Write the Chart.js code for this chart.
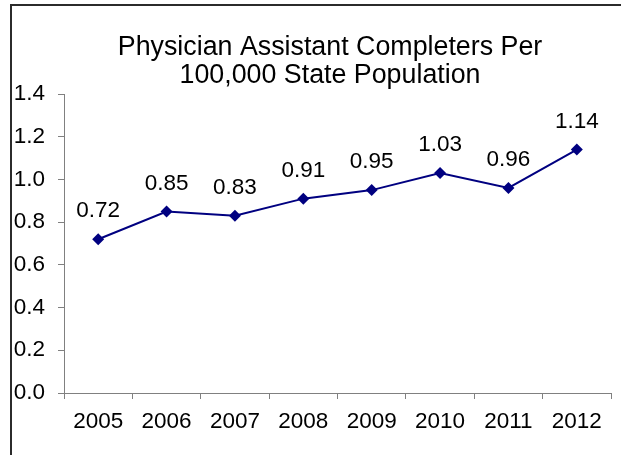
<!DOCTYPE html>
<html>
<head>
<meta charset="utf-8">
<title>Physician Assistant Completers</title>
<script src="https://cdn.jsdelivr.net/npm/chart.js@4"></script>
<style>
  html, body { margin:0; padding:0; background:#fff; }
  #wrap { width:621px; height:455px; }
</style>
</head>
<body>
<div id="wrap"><canvas id="chart" width="621" height="455"></canvas></div>
<script>
// ====== DATA ======
const years = ['2005','2006','2007','2008','2009','2010','2011','2012'];
const completers = [0.72, 0.85, 0.83, 0.91, 0.95, 1.03, 0.96, 1.14];
const titleLines = ['Physician Assistant Completers Per', '100,000 State Population'];

const FONT = '"Liberation Sans", Arial, sans-serif';
const NAVY = '#000080';
const AXIS = '#808080';

// ====== PLUGINS ======
const frameAndText = {
  id: 'frameAndText',
  beforeDraw(chart){
    const ctx = chart.ctx;
    ctx.save();
    ctx.strokeStyle = '#2b2b2b';
    ctx.lineWidth = 2;
    ctx.beginPath();
    ctx.moveTo(11, 455);
    ctx.lineTo(11, 5);
    ctx.lineTo(621, 5);
    ctx.stroke();
    ctx.restore();
  },
  afterDraw(chart){
    const ctx = chart.ctx;
    ctx.save();
    ctx.fillStyle = '#000';
    ctx.textAlign = 'center';
    ctx.textBaseline = 'middle';
    // title
    ctx.font = '26.8px ' + FONT;
    titleLines.forEach((t,i)=> ctx.fillText(t, 330, 48 + i*28));
    // value labels
    ctx.font = '22.5px ' + FONT;
    const meta = chart.getDatasetMeta(0);
    meta.data.forEach((pt,i)=>{
      ctx.fillText(completers[i].toFixed(2), pt.x, pt.y - 28);
    });
    ctx.restore();
  }
};

// ====== CHART ======
new Chart(document.getElementById('chart'), {
  type: 'line',
  data: {
    labels: years,
    datasets: [{
      data: completers,
      borderColor: NAVY,
      backgroundColor: NAVY,
      borderWidth: 2,
      pointStyle: 'rectRot',
      pointRadius: 6,
      pointBorderWidth: 0,
      tension: 0
    }]
  },
  options: {
    responsive: false,
    animation: false,
    devicePixelRatio: 1,
    layout: { padding: { top: 94, left: 10, right: 10, bottom: 22 } },
    plugins: {
      legend: { display: false },
      title: { display: false },
      tooltip: { enabled: false }
    },
    scales: {
      x: {
        offset: true,
        afterFit(scale){ scale.height = 40; },
        grid: { offset: true, drawOnChartArea: false, drawTicks: true, tickLength: 6, color: AXIS },
        border: { color: AXIS, width: 1 },
        ticks: { color: '#000', font: { family: FONT, size: 22.5 }, padding: 9, maxRotation: 0 }
      },
      y: {
        min: 0,
        max: 1.4,
        afterFit(scale){ scale.width = 54; },
        grid: { drawOnChartArea: false, drawTicks: true, tickLength: 6, color: AXIS },
        border: { color: AXIS, width: 1 },
        ticks: {
          stepSize: 0.2,
          color: '#000',
          font: { family: FONT, size: 22.5 },
          padding: 13,
          callback: v => v.toFixed(1)
        }
      }
    }
  },
  plugins: [frameAndText]
});
</script>
</body>
</html>
